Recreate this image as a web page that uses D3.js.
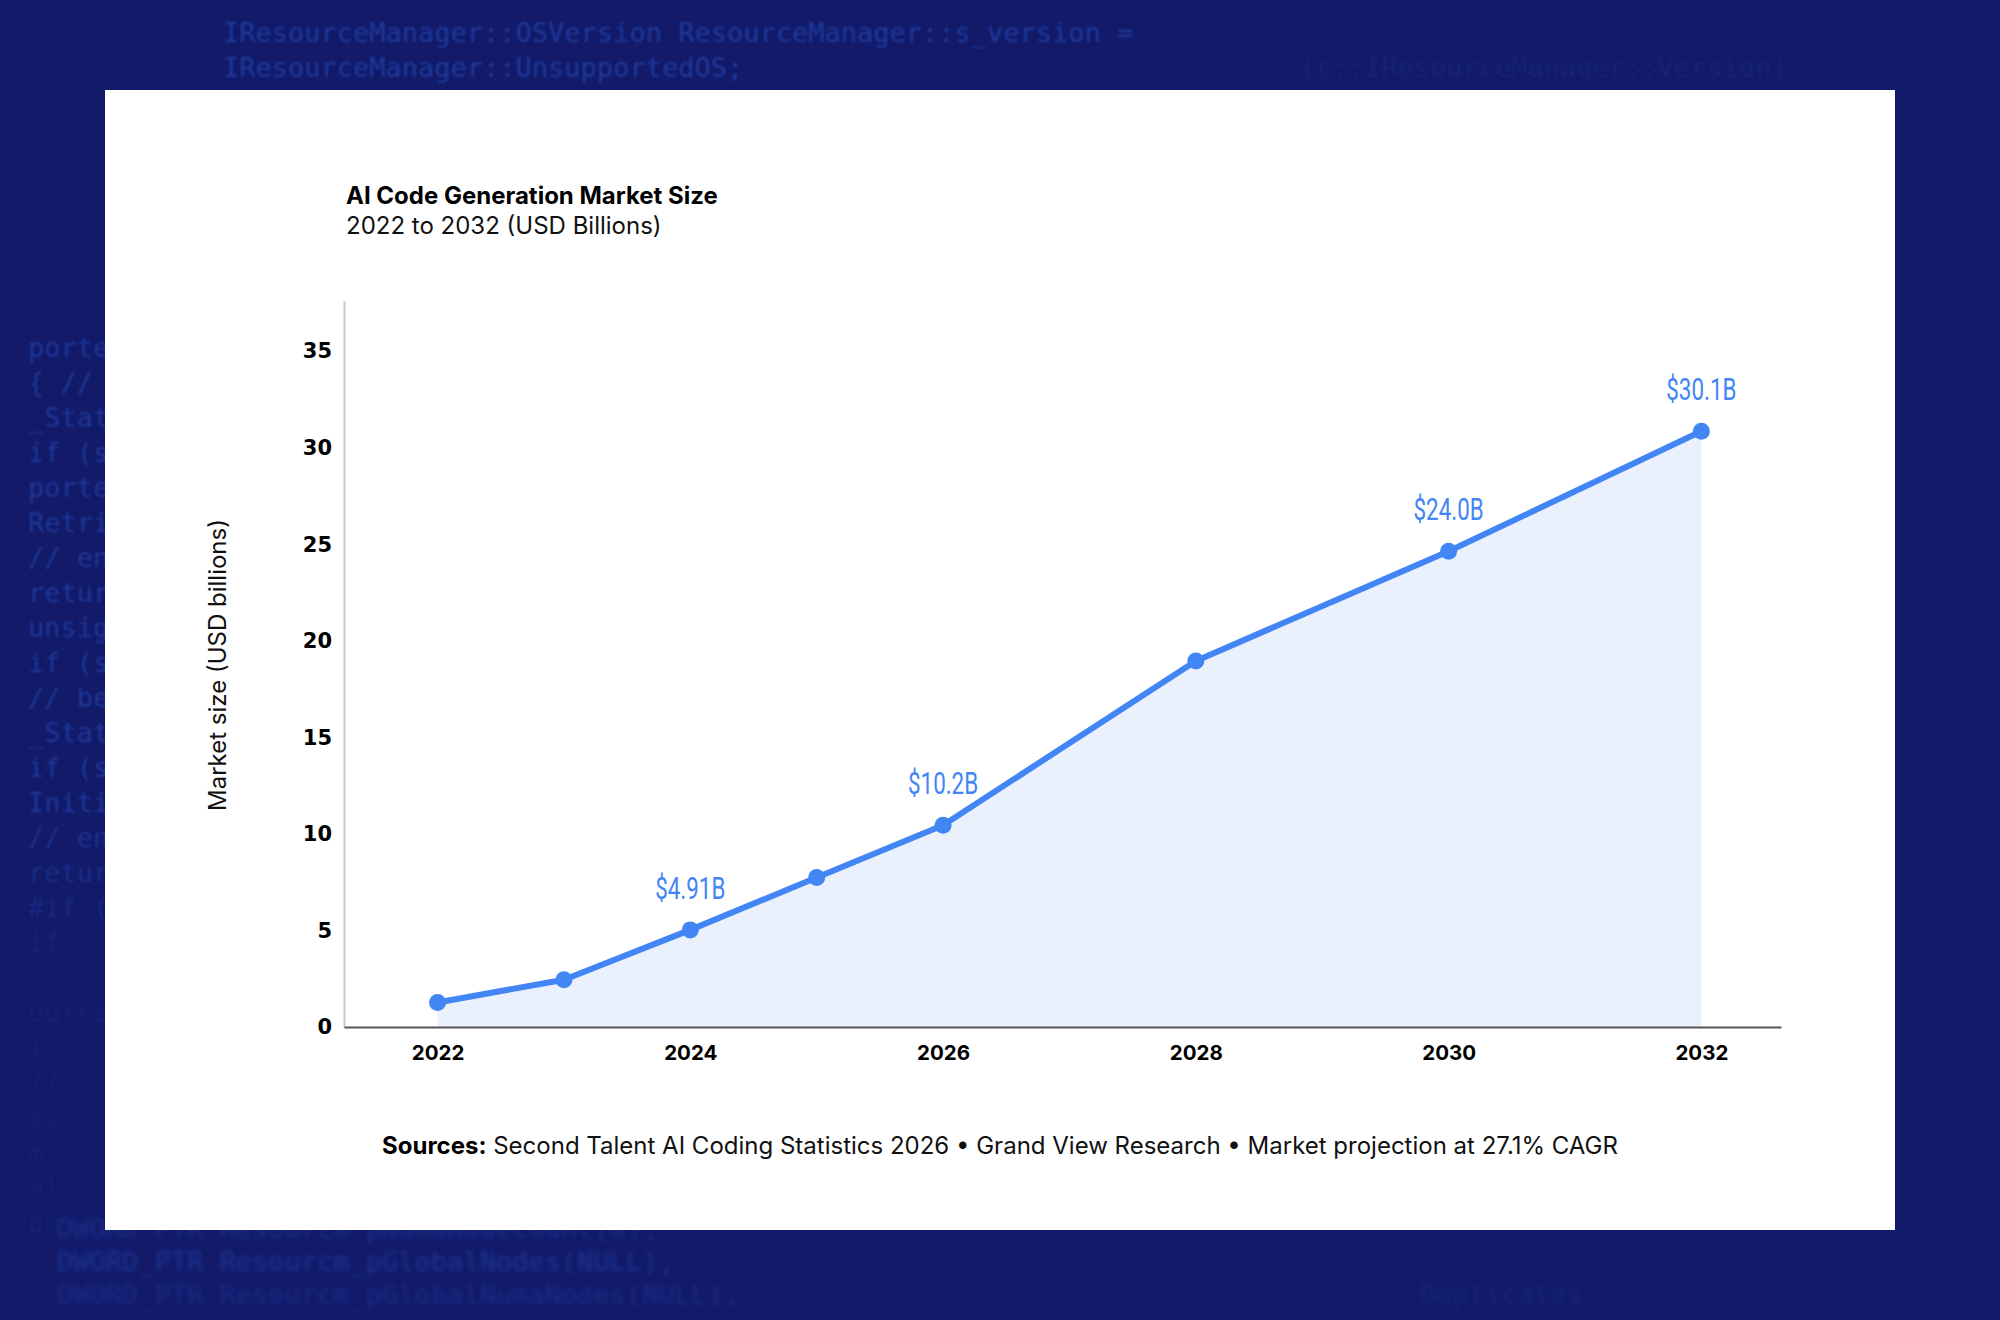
<!DOCTYPE html>
<html>
<head>
<meta charset="utf-8">
<script src="https://cdn.jsdelivr.net/npm/d3@7/dist/d3.min.js"></script>
<style>
  html, body { margin: 0; padding: 0; background: #121a69; }
  svg { display: block; }
</style>
</head>
<body>
<svg id="chart" width="2000" height="1320"></svg>
<script>
// ---- data ----
const years = [2022, 2023, 2024, 2025, 2026, 2028, 2030, 2032];
const marketSize = [1.27, 2.45, 5.03, 7.74, 10.45, 18.96, 24.64, 30.85];
const labelYears = [2024, 2026, 2030, 2032];
const labelTexts = ["$4.91B", "$10.2B", "$24.0B", "$30.1B"];
const xTickValues = [2022, 2024, 2026, 2028, 2030, 2032];
const yTickValues = [0, 5, 10, 15, 20, 25, 30, 35];
const titleText = "AI Code Generation Market Size";
const subtitleText = "2022 to 2032 (USD Billions)";
const yAxisTitle = "Market size (USD billions)";
const sourcesBold = "Sources:";
const sourcesText = " Second Talent AI Coding Statistics 2026 \u2022 Grand View Research \u2022 Market projection at 27.1% CAGR";

// decorative background code lines
const codeTop = [
  {t: "IResourceManager::OSVersion ResourceManager::s_version =", x: 223, y: 42, o: 0.55},
  {t: "IResourceManager::UnsupportedOS;", x: 223, y: 77, o: 0.55},
  {t: "(c::IResourceManager::Version)", x: 1300, y: 77, o: 0.16}
];
const codeLeft = ["porte", "{ //", "_Stat", "if (s", "porte", "Retri", "// en", "retur", "unsig", "if (s", "// be", "_Stat", "if (s", "Initi", "// en", "retur", "#if (", "   if", "", "ourca", "  }", "  //", "  sc", "  m", "  al", "  po"];
const codeBottom = [
  {t: "DWORD_PTR Resourcm_pNumaNodeCount(0),", x: 57, y: 1238, o: 0.35},
  {t: "DWORD_PTR Resourcm_pGlobalNodes(NULL),", x: 57, y: 1271, o: 0.45},
  {t: "DWORD_PTR Resourcm_pGlobalNumaNodes(NULL),", x: 57, y: 1304, o: 0.3},
  {t: "Duplicates", x: 1420, y: 1304, o: 0.2}
];

const svg = d3.select("#chart");
const W = 2000, H = 1320;

// ---- background ----
const defs = svg.append("defs");
defs.append("filter").attr("id", "blur").append("feGaussianBlur").attr("stdDeviation", 1.3);
defs.append("filter").attr("id", "blur2").append("feGaussianBlur").attr("stdDeviation", 2.2);
svg.append("rect").attr("width", W).attr("height", H).attr("fill", "#121a69");

const bg = svg.append("g").attr("font-family", "'DejaVu Sans Mono', 'Liberation Mono', monospace")
  .attr("font-size", 27).attr("fill", "#2a55c8");
bg.selectAll("text.top").data(codeTop).join("text")
  .attr("x", d => d.x).attr("y", d => d.y).attr("opacity", d => d.o)
  .attr("filter", "url(#blur)").text(d => d.t);
bg.selectAll("text.left").data(codeLeft).join("text")
  .attr("x", 28).attr("y", (d, i) => 357 + i * 35)
  .attr("opacity", (d, i) => i < 14 ? 0.5 : Math.max(0.12, 0.5 - (i - 13) * 0.08))
  .attr("filter", "url(#blur)").text(d => d);
bg.selectAll("text.bottom").data(codeBottom).join("text")
  .attr("x", d => d.x).attr("y", d => d.y).attr("opacity", d => d.o)
  .attr("filter", "url(#blur2)").text(d => d.t);

// ---- card ----
svg.append("rect").attr("x", 105).attr("y", 90).attr("width", 1790).attr("height", 1140).attr("fill", "#ffffff");

// ---- titles ----
svg.append("text").attr("x", 346).attr("y", 204)
  .attr("font-family", "Inter, 'Noto Sans', sans-serif").attr("font-weight", 700)
  .attr("font-size", 24).attr("fill", "#000").text(titleText);
svg.append("text").attr("x", 346).attr("y", 234)
  .attr("font-family", "Inter, 'Noto Sans', sans-serif").attr("font-weight", 400)
  .attr("font-size", 24).attr("fill", "#111").text(subtitleText);

// ---- scales ----
const x = d3.scaleLinear().domain([2021.26, 2032.63]).range([344, 1781]);
const y = d3.scaleLinear().domain([0, 37.6]).range([1027, 301]);

const data = years.map((yr, i) => ({year: yr, value: marketSize[i]}));

// area
const area = d3.area().x(d => x(d.year)).y0(y(0)).y1(d => y(d.value));
svg.append("path").datum(data).attr("d", area).attr("fill", "#eaf1fd");

// y axis
const yAxis = svg.append("g").attr("transform", `translate(${x(2021.26)},0)`)
  .call(d3.axisLeft(y).tickValues(yTickValues).tickSize(0).tickPadding(12).tickFormat(d3.format("d")));
yAxis.select(".domain").attr("stroke", "#c8c8c8").attr("stroke-width", 2);
yAxis.selectAll("text").attr("font-family", "'DejaVu Sans', sans-serif").attr("font-weight", 700)
  .attr("font-size", 21).attr("fill", "#000");

// x axis
const xAxis = svg.append("g").attr("transform", `translate(0,${y(0)})`)
  .call(d3.axisBottom(x).tickValues(xTickValues).tickSize(0).tickPadding(18).tickFormat(d3.format("d")));
xAxis.select(".domain").attr("stroke", "#555").attr("stroke-width", 2);
xAxis.selectAll("text").attr("font-family", "Inter, 'Noto Sans', sans-serif").attr("font-weight", 700)
  .attr("font-size", 20.5).attr("fill", "#000");

// y axis title
svg.append("text").attr("transform", `translate(226,665) rotate(-90)`)
  .attr("text-anchor", "middle")
  .attr("font-family", "Inter, 'Noto Sans', sans-serif").attr("font-size", 24).attr("fill", "#111")
  .text(yAxisTitle);

// line
const line = d3.line().x(d => x(d.year)).y(d => y(d.value));
svg.append("path").datum(data).attr("d", line).attr("fill", "none")
  .attr("stroke", "#4285f4").attr("stroke-width", 6).attr("stroke-linejoin", "round");

// points
svg.selectAll("circle.pt").data(data).join("circle")
  .attr("cx", d => x(d.year)).attr("cy", d => y(d.value)).attr("r", 8.5).attr("fill", "#4285f4");

// value labels (condensed look via horizontal scale)
const labelData = labelYears.map((yr, i) => ({year: yr, text: labelTexts[i], value: marketSize[years.indexOf(yr)]}));
svg.selectAll("text.lbl").data(labelData).join("text")
  .attr("transform", d => `translate(${x(d.year)},${y(d.value) - 31}) scale(0.7,1)`)
  .attr("text-anchor", "middle")
  .attr("font-family", "Roboto, 'Liberation Sans', sans-serif")
  .attr("font-size", 32).attr("fill", "#4285f4")
  .text(d => d.text);

// sources
const src = svg.append("text").attr("x", 1000).attr("y", 1154).attr("text-anchor", "middle")
  .attr("font-family", "Inter, 'Noto Sans', sans-serif").attr("font-size", 24).attr("fill", "#111");
src.append("tspan").attr("font-weight", 700).attr("fill", "#000").text(sourcesBold);
src.append("tspan").text(sourcesText);
</script>
</body>
</html>
